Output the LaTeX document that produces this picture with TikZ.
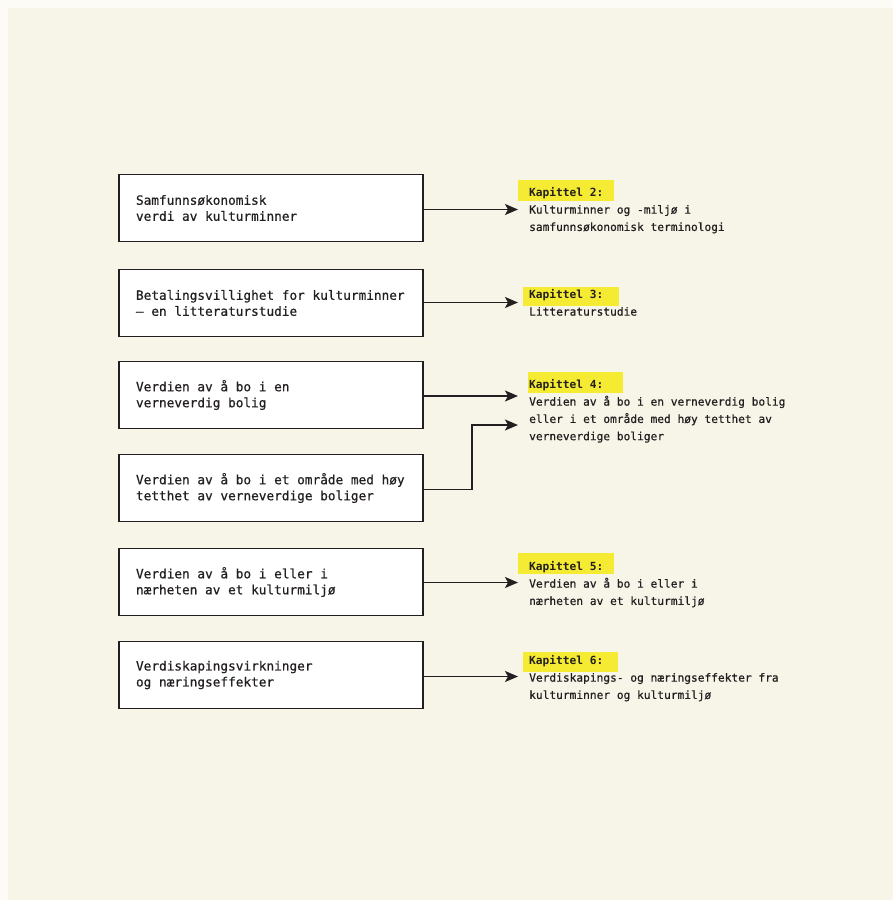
\documentclass[tikz,border=0pt]{standalone}
\usepackage{fontspec}
\setmonofont{DejaVu Sans Mono}
\newfontfamily\bodymono[FakeBold=0.6]{DejaVu Sans Mono}
\usetikzlibrary{arrows.meta}
\definecolor{paper}{RGB}{247,244,232}
\definecolor{rim}{RGB}{252,251,246}
\definecolor{ink}{RGB}{35,31,32}
\definecolor{marker}{RGB}{245,235,50}
\newcommand{\chaplabel}[1]{{\ttfamily\bfseries #1}}
\begin{document}
\begin{tikzpicture}[x=1pt,y=-1pt,
  topic/.style={draw=ink, line width=1.8pt, fill=white, minimum width=304pt,
    minimum height=67pt, text width=270pt, align=flush left, inner sep=0pt,
    font=\bodymono\fontsize{12.75}{16}\selectfont, text=ink},
  chap/.style={anchor=north west, inner sep=0pt, align=left,
    font=\bodymono\fontsize{11.2}{17.3}\selectfont, text=ink},
  hl/.style={fill=marker},
  link/.style={draw=ink, line width=1.6pt,
    -{Stealth[length=13pt,width=11pt,inset=3pt]}}]

% page
\useasboundingbox (0,0) rectangle (893,900);
\fill[rim] (0,0) rectangle (893,900);
\fill[paper] (8,8) rectangle (893,900);

% topic boxes
\node[topic] (b1) at (271,208) {Samfunnsøkonomisk\\verdi av kulturminner};
\node[topic] (b2) at (271,303) {Betalingsvillighet for kulturminner\\– en litteraturstudie};
\node[topic] (b3) at (271,395) {Verdien av å bo i en\\verneverdig bolig};
\node[topic] (b4) at (271,488) {Verdien av å bo i et område med høy\\tetthet av verneverdige boliger};
\node[topic] (b5) at (271,582) {Verdien av å bo i eller i\\nærheten av et kulturmiljø};
\node[topic] (b6) at (271,675) {Verdiskapingsvirkninger\\og næringseffekter};

% chapter highlights
\fill[hl] (518,180) rectangle (614,201);
\fill[hl] (523,287) rectangle (619,306);
\fill[hl] (528,372) rectangle (623,393);
\fill[hl] (518,553) rectangle (614,574);
\fill[hl] (523,652) rectangle (618,672);

% chapter texts
\node[chap] (c2) at (529,187) {\chaplabel{Kapittel 2:}\\Kulturminner og -miljø i\\samfunnsøkonomisk terminologi};
\node[chap] (c3) at (529,289) {\chaplabel{Kapittel 3:}\\Litteraturstudie};
\node[chap] (c4) at (529,379) {\chaplabel{Kapittel 4:}\\Verdien av å bo i en verneverdig bolig\\eller i et område med høy tetthet av\\verneverdige boliger};
\node[chap] (c5) at (529,561) {\chaplabel{Kapittel 5:}\\Verdien av å bo i eller i\\nærheten av et kulturmiljø};
\node[chap] (c6) at (529,655) {\chaplabel{Kapittel 6:}\\Verdiskapings- og næringseffekter fra\\kulturminner og kulturmiljø};

% arrow ends
\coordinate (e1) at (518,209.5);
\coordinate (e2) at (518,302.5);
\coordinate (e3) at (518,396);
\coordinate (k4) at (472,489.5);
\coordinate (j4) at (472,425);
\coordinate (e4) at (518,425);
\coordinate (e5) at (518,582.5);
\coordinate (e6) at (518,676.5);

% connectors
\draw[link] (b1.east |- e1) -- (e1);
\draw[link] (b2.east |- e2) -- (e2);
\draw[link] (b3.east |- e3) -- (e3);
\draw[link] (b4.east |- k4) -- (k4) -- (j4) -- (e4);
\draw[link] (b5.east |- e5) -- (e5);
\draw[link] (b6.east |- e6) -- (e6);
\end{tikzpicture}
\end{document}
